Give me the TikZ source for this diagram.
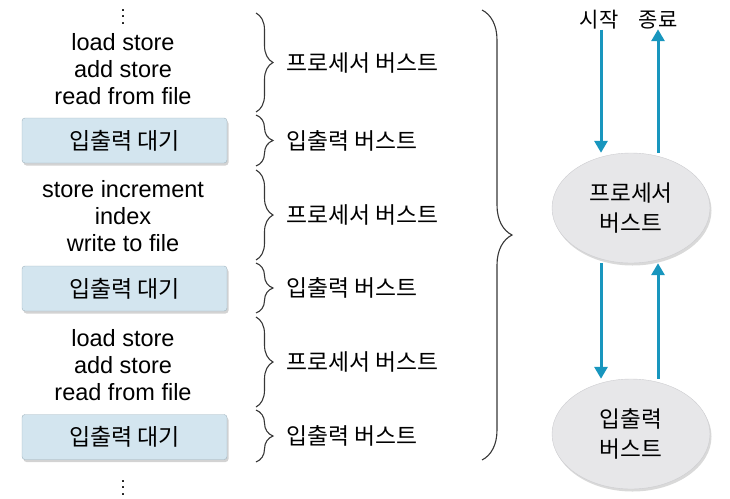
\documentclass[tikz,border=0pt]{standalone}
\usepackage{fontspec}
\setmainfont{Liberation Sans}
\newfontfamily\krfont{Noto Sans CJK KR}
\usepackage{xcolor}
\usetikzlibrary{arrows.meta,positioning,calc,shapes.geometric,decorations.pathreplacing,shadows}

\definecolor{waitblue}{RGB}{211,229,239}
\definecolor{waitedge}{RGB}{160,180,190}
\definecolor{stategray}{RGB}{231,231,233}
\definecolor{stateedge}{RGB}{205,205,208}
\definecolor{flowteal}{RGB}{24,150,190}
\definecolor{braceink}{RGB}{55,55,55}

\newcommand{\moredots}{\vbox{\baselineskip6.3pt\lineskiplimit0pt
  \hbox{.}\hbox{.}\hbox{.}}}

\begin{document}
\begin{tikzpicture}[
  x=1pt,
  y=-1pt,
  font=\fontsize{23.5}{27}\selectfont,
  code/.style={align=center, inner sep=0pt},
  more/.style={inner sep=0pt, font=\fontsize{18}{20}\selectfont},
  wait/.style={draw=waitedge, fill=waitblue, rounded corners=3pt,
    minimum width=205pt, minimum height=45pt, inner sep=0pt,
    font=\krfont\fontsize{23}{25}\selectfont,
    drop shadow={shadow xshift=1.5pt, shadow yshift=-2.5pt, opacity=0.35}},
  burst/.style={font=\krfont\fontsize{22.8}{25}\selectfont, inner sep=0pt},
  state/.style={ellipse, draw=stateedge, fill=stategray, align=center,
    minimum width=158pt, minimum height=110pt, inner sep=0pt,
    font=\krfont\fontsize{22.6}{30}\selectfont,
    drop shadow={shadow xshift=1.5pt, shadow yshift=-2.5pt, opacity=0.3}},
  cut/.style={decorate, decoration={brace, amplitude=17pt}, draw=braceink,
    line width=1.1pt},
  flow/.style={-{Triangle[width=13pt,length=12pt]}, line width=3pt, draw=flowteal}
]
\useasboundingbox (0,0) rectangle (730,498);

% program trace
\node[more] (dotstop) at (123,17) {\moredots};
\node[code] (code1) at (123,69) {load store\\add store\\read from file};
\node[wait] (wait1) at (124.5,140.5) {입출력 대기};
\node[code] (code2) at (123,216) {store increment\\index\\write to file};
\node[wait] (wait2) at (124.5,288.5) {입출력 대기};
\node[code] (code3) at (123,365) {load store\\add store\\read from file};
\node[wait] (wait3) at (124.5,437) {입출력 대기};
\node[more] (dotsbot) at (123,488) {\moredots};

% burst braces
\draw[cut] (256,13) -- (256,112)
  node[burst, midway, anchor=west, xshift=30pt] (cpu1) {프로세서 버스트};
\draw[cut] (256,115) -- (256,166)
  node[burst, midway, anchor=west, xshift=30pt] (io1) {입출력 버스트};
\draw[cut] (256,170) -- (256,260)
  node[burst, midway, anchor=west, xshift=30pt] (cpu2) {프로세서 버스트};
\draw[cut] (256,263) -- (256,313)
  node[burst, midway, anchor=west, xshift=30pt] (io2) {입출력 버스트};
\draw[cut] (256,317) -- (256,407)
  node[burst, midway, anchor=west, xshift=30pt] (cpu3) {프로세서 버스트};
\draw[cut] (256,410) -- (256,462)
  node[burst, midway, anchor=west, xshift=30pt] (io3) {입출력 버스트};
\draw[cut, decoration={brace, amplitude=30pt}] (482,10) -- (482,460);

% burst cycle
\node[burst, font=\krfont\fontsize{21}{25}\selectfont] (start) at (599,20) {시작};
\node[burst, font=\krfont\fontsize{21}{25}\selectfont] (finish) at (658,20) {종료};
\node[state] (cpu) at (631,208) {프로세서\\버스트};
\node[state] (io) at (631,434) {입출력\\버스트};
\coordinate (inlane) at (601,0);

\draw[flow] (start.south -| inlane) -- (inlane |- cpu.north);
\draw[flow] (cpu.north -| finish.south) -- (finish.south);
\draw[flow] (cpu.south -| inlane) -- (io.north -| inlane);
\draw[flow] (io.north -| finish.south) -- (cpu.south -| finish.south);

\end{tikzpicture}
\end{document}
